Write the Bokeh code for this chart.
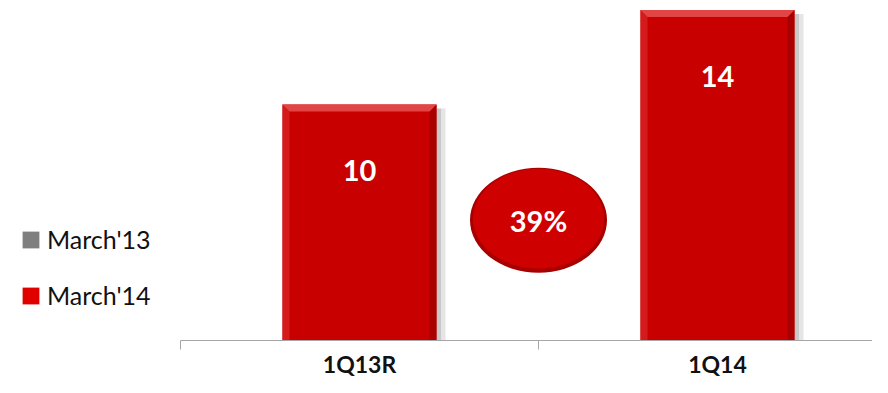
from bokeh.plotting import figure
from bokeh.models import (ColumnDataSource, FixedTicker, Range1d, Legend, LegendItem, LinearAxis)
from bokeh.core.properties import value
from bokeh.embed import file_html
from bokeh.resources import INLINE

# ---- data ----
categories = ["1Q13R", "1Q14"]
values_mar14 = [10, 14]
value_labels = ["10", "14"]
growth_label = "39%"
growth_y = 5.1
legend_labels = ["March'13", "March'14"]
legend_colors = ["#7f7f7f", "#e00000"]

# ---- layout ----
W, H = 872, 377
cat_px = 358.0
px_y = 23.6
axis_left_px = 180.0
axis_y_px = 340.0
x_start = -axis_left_px / cat_px
x_end = (W - axis_left_px) / cat_px
y_start = -(H - axis_y_px) / px_y
y_end = axis_y_px / px_y
px_x = cat_px

FONT = "Lato"
BAR_RED = "#c90000"

p = figure(width=W, height=H, output_backend="svg", toolbar_location=None,
           x_range=Range1d(x_start, x_end), y_range=Range1d(y_start, y_end),
           x_axis_location=None, y_axis_location=None,
           min_border=0)
p.outline_line_color = None
p.grid.visible = False
p.background_fill_color = "white"
p.border_fill_color = "white"

xs = [i + 0.5 for i in range(len(categories))]
bw = 154.0 / px_x
lefts = [x - bw / 2 for x in xs]
rights = [x + bw / 2 for x in xs]

# soft shadow
sh = 9.0 / px_x
tops_sh = [v - 4.0 / px_y for v in values_mar14]
p.quad(left=rights, right=[r + sh for r in rights], bottom=0, top=tops_sh,
       fill_color="#000000", fill_alpha=0.10, line_color=None)
p.quad(left=rights, right=[r + sh * 0.5 for r in rights], bottom=0, top=tops_sh,
       fill_color="#000000", fill_alpha=0.12, line_color=None)

src = ColumnDataSource(dict(x=xs, top=values_mar14, left=lefts, right=rights,
                            lab=value_labels))
p.quad(left="left", right="right", bottom=0, top="top", source=src,
       fill_color=BAR_RED, line_color=None)

# bevels
b = 7.0
bx, by = b / px_x, b / px_y
top_x, top_y, r_x, r_y, l_x, l_y = [], [], [], [], [], []
for l, r, v in zip(lefts, rights, values_mar14):
    top_x.append([l, r, r - bx, l + bx]); top_y.append([v, v, v - by, v - by])
    r_x.append([r, r, r - bx, r - bx]); r_y.append([v, 0, 0, v - by])
    l_x.append([l, l, l + bx, l + bx]); l_y.append([v, 0, 0, v - by])
p.patches(r_x, r_y, fill_color="#a90000", line_color=None)
p.patches(l_x, l_y, fill_color="#d41a1a", line_color=None)
p.patches(top_x, top_y, fill_color="#e24545", line_color=None)

p.text(x="x", y="top", text="lab", source=src, text_color="white",
       text_font=value(FONT), text_font_style="bold", text_font_size="29px",
       text_align="center", text_baseline="middle", y_offset=66)

# growth bubble
p.ellipse(x=[1.0], y=[growth_y], width=137, height=105, width_units="screen",
          height_units="screen", fill_color="#a80000", line_color=None)
p.ellipse(x=[1.0], y=[growth_y + 1.5 / px_y], width=131, height=100, width_units="screen",
          height_units="screen", fill_color="#cf0000", line_color=None)
p.text(x=[1.0], y=[growth_y], text=[growth_label], text_color="white",
       text_font=value(FONT), text_font_style="bold", text_font_size="29px",
       text_align="center", text_baseline="middle")

# axis at y=0, limited to the category span
ax = LinearAxis(fixed_location=0, bounds=(0, x_end))
ax.ticker = FixedTicker(ticks=xs, minor_ticks=list(range(len(categories) + 1)))
ax.major_label_overrides = {x: c for x, c in zip(xs, categories)}
ax.major_tick_out = 0
ax.major_tick_in = 0
ax.minor_tick_out = 9
ax.minor_tick_in = 0
ax.minor_tick_line_color = "#a6a6a6"
ax.axis_line_color = "#a6a6a6"
ax.major_label_text_font = FONT
ax.major_label_text_font_style = "bold"
ax.major_label_text_font_size = "23px"
ax.major_label_text_color = "#111111"
ax.major_label_standoff = 0
p.add_layout(ax, "below")

# legend (swatch renderers hold one off-screen point so the swatch is drawn)
items = []
for lab, col in zip(legend_labels, legend_colors):
    r = p.quad(left=[x_start - 2], right=[x_start - 1], bottom=[0], top=[0],
               fill_color=col, line_color=None)
    items.append(LegendItem(label=lab, renderers=[r]))
leg = Legend(items=items, location=(20, 67), glyph_width=21, glyph_height=21,
             label_height=21, spacing=26, padding=0, margin=0,
             border_line_color=None, background_fill_alpha=0,
             label_text_font=FONT, label_text_font_size="25px",
             label_text_color="#111111", label_standoff=6)
p.add_layout(leg, "center")

open("out.html", "w").write(file_html(p, INLINE))
